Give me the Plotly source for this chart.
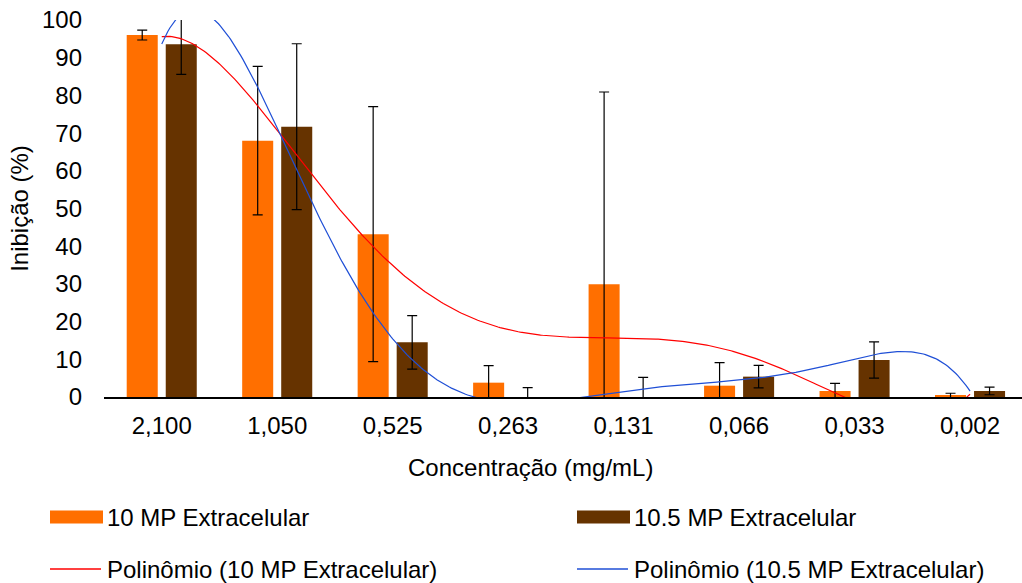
import numpy as np
import plotly.graph_objects as go

categories = ["2,100", "1,050", "0,525", "0,263", "0,131", "0,066", "0,033", "0,002"]
mp10 = [96.0, 68.0, 43.2, 3.8, 29.9, 3.0, 1.6, 0.3]
mp10_err = [1.3, 19.7, 33.8, 4.5, 51.0, 6.1, 2.0, 0.7]
mp105 = [93.6, 71.7, 14.5, 0.0, 0.0, 5.4, 9.8, 1.6]
mp105_err = [8.0, 22.0, 7.1, 2.5, 5.2, 3.0, 4.8, 1.0]
y_ticks = [0, 10, 20, 30, 40, 50, 60, 70, 80, 90, 100]

FONT = "Liberation Sans, Arial, sans-serif"
FS = 24
ORANGE, BROWN, RED, BLUE = "#FF6F00", "#663300", "#FF0000", "#1F4FD6"

# Excel-like polynomial trendlines fitted on category index 1..n
xi = np.arange(1, len(categories) + 1)
xs = np.linspace(1, len(categories), 400)
red_fit = np.polyval(np.polyfit(xi, mp10, 5), xs)
blue_fit = np.polyval(np.polyfit(xi, mp105, 6), xs)
xs_pos = xs - 1  # category positions on the axis (0-based)

fig = go.Figure()
fig.add_trace(go.Bar(
    x=list(range(len(categories))), y=mp10, name="10 MP Extracelular",
    marker=dict(color=ORANGE, line=dict(width=0)),
    error_y=dict(type="data", array=mp10_err, color="black", thickness=1.2, width=5),
))
fig.add_trace(go.Bar(
    x=list(range(len(categories))), y=mp105, name="10.5 MP Extracelular",
    marker=dict(color=BROWN, line=dict(width=0)),
    error_y=dict(type="data", array=mp105_err, color="black", thickness=1.2, width=5),
))
fig.add_trace(go.Scatter(
    x=xs_pos, y=red_fit, mode="lines", name="Polinômio (10 MP Extracelular)",
    line=dict(color=RED, width=1.2),
))
fig.add_trace(go.Scatter(
    x=xs_pos, y=blue_fit, mode="lines", name="Polinômio (10.5 MP Extracelular)",
    line=dict(color=BLUE, width=1.2),
))

# ---- Layout geometry (pixels) ----
W, H = 1022, 583
L, R, T, B = 104, 0, 20, 186
PW, PH = W - L - R, H - T - B


def px(x):
    return (x - L) / PW


def py(y):
    return (H - B - y) / PH


# Legend drawn as layout decorations (two columns, two rows), like Excel's
legend_items = [
    ("rect", ORANGE, 50, 517, "10 MP Extracelular"),
    ("rect", BROWN, 577, 517, "10.5 MP Extracelular"),
    ("line", RED, 50, 569, "Polinômio (10 MP Extracelular)"),
    ("line", BLUE, 577, 569, "Polinômio (10.5 MP Extracelular)"),
]
shapes, annotations = [], []
for kind, color, x0, yc, label in legend_items:
    if kind == "rect":
        shapes.append(dict(type="rect", xref="paper", yref="paper",
                           x0=px(x0), x1=px(x0 + 53), y0=py(yc - 6.5), y1=py(yc + 6.5),
                           fillcolor=color, line=dict(width=0), layer="above"))
    else:
        shapes.append(dict(type="line", xref="paper", yref="paper",
                           x0=px(x0), x1=px(x0 + 51), y0=py(yc), y1=py(yc),
                           line=dict(color=color, width=1.3), layer="above"))
    annotations.append(dict(text=label, xref="paper", yref="paper", x=px(x0 + 55), y=py(yc),
                            xanchor="left", yanchor="middle", showarrow=False,
                            font=dict(family=FONT, size=FS, color="black")))

# x-axis title (Excel places it slightly left of the plot-area centre)
annotations.append(dict(text="Concentração (mg/mL)", xref="paper", yref="paper",
                        x=px(530), y=py(467), xanchor="center", yanchor="middle",
                        showarrow=False, font=dict(family=FONT, size=FS, color="black")))

fig.update_layout(
    width=W, height=H,
    margin=dict(l=L, r=R, t=T, b=B),
    paper_bgcolor="white", plot_bgcolor="white",
    font=dict(family=FONT, size=FS, color="black"),
    barmode="group", bargap=0.324, bargroupgap=0.205,
    showlegend=False,
    shapes=shapes, annotations=annotations,
    xaxis=dict(
        tickmode="array", tickvals=list(range(len(categories))), ticktext=categories,
        range=[-0.5, 7.45], showline=True, linecolor="black", linewidth=2,
        ticks="", showgrid=False, zeroline=False, ticklabelstandoff=6,
        tickfont=dict(size=FS),
    ),
    yaxis=dict(
        range=[0, 100], tickmode="array", tickvals=y_ticks, showline=False,
        showgrid=False, zeroline=False, ticks="", ticklabelstandoff=21,
        title=dict(text="Inibição (%)", font=dict(size=FS), standoff=6),
        tickfont=dict(size=FS),
    ),
)
fig.write_html("out.html")
